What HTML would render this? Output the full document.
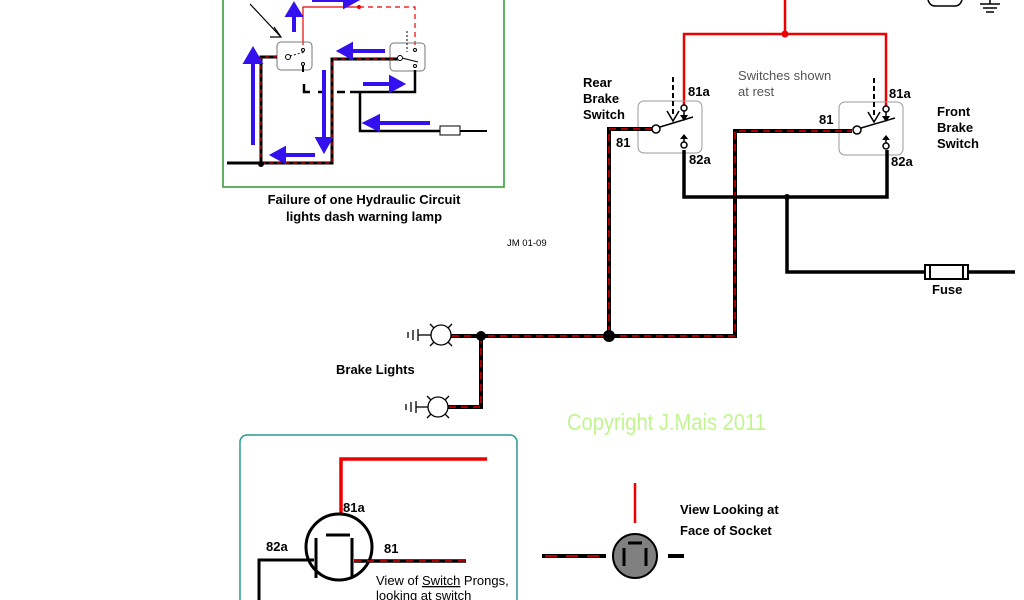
<!DOCTYPE html>
<html><head><meta charset="utf-8"><style>
html,body{margin:0;padding:0;background:#fff;width:1024px;height:600px;overflow:hidden}
svg{display:block}
text{font-family:"Liberation Sans",Arial,sans-serif}
.b{font-weight:bold;font-size:13px;fill:#000}
</style></head><body>
<svg width="1024" height="600" viewBox="0 0 1024 600" xmlns="http://www.w3.org/2000/svg">
<defs>
<marker id="ah" markerWidth="6" markerHeight="6" refX="3" refY="3" orient="auto"><path d="M0,0 L6,3 L0,6 z" fill="#000"/></marker>
</defs>
<!-- ===== top-left inset ===== -->
<rect x="223" y="-2" width="281" height="189" fill="none" stroke="#2a9a2a" stroke-width="1.5"/>
<text x="364" y="204" class="b" text-anchor="middle" font-size="12.5">Failure of one Hydraulic Circuit</text>
<text x="364" y="221" class="b" text-anchor="middle" font-size="12.5">lights dash warning lamp</text>
<!-- red thin -->
<polyline points="303,45 303,7 358,7" fill="none" stroke="#e00" stroke-width="1.2"/>
<circle cx="359" cy="7" r="2" fill="#e00"/>
<polyline points="359,7 415,7 415,45" fill="none" stroke="#e00" stroke-width="1.2" stroke-dasharray="5,4"/>
<!-- switch boxes -->
<rect x="277" y="42" width="35" height="28" rx="4" fill="none" stroke="#777" stroke-width="1"/>
<rect x="390" y="43" width="35" height="28" rx="4" fill="none" stroke="#777" stroke-width="1"/>
<circle cx="288" cy="57" r="2.5" fill="#fff" stroke="#000"/>
<line x1="290" y1="56" x2="305" y2="52" stroke="#000" stroke-dasharray="2,2"/>
<circle cx="303" cy="50" r="1.5" fill="none" stroke="#000"/>
<circle cx="303" cy="64" r="1.5" fill="none" stroke="#000"/>
<line x1="303" y1="66" x2="303" y2="72" stroke="#000" stroke-width="2"/>
<circle cx="400" cy="58" r="2.5" fill="#fff" stroke="#000"/>
<line x1="402" y1="58" x2="418" y2="62" stroke="#000"/>
<circle cx="415" cy="50" r="1.5" fill="none" stroke="#000"/>
<circle cx="415" cy="66" r="1.5" fill="none" stroke="#000"/>
<line x1="407" y1="31" x2="407" y2="52" stroke="#000" stroke-dasharray="2,2"/>
<!-- wires black/red -->
<g fill="none" stroke-width="3">
<polyline points="277,57 261,57 261,163" stroke="#000"/>
<polyline points="277,57 261,57 261,163" stroke="#d00" stroke-width="1.2" stroke-dasharray="4,4"/>
<polyline points="227,163 332,163 332,59 398,59" stroke="#000"/>
<polyline points="261,163 332,163 332,59 398,59" stroke="#d00" stroke-width="1.2" stroke-dasharray="4,4"/>
<polyline points="415,70 415,92 350,92" stroke="#000" stroke-width="2.5"/>
<polyline points="360,92 360,131 440,131" stroke="#000" stroke-width="2.5"/>
<line x1="460" y1="131" x2="487" y2="131" stroke="#000" stroke-width="2"/>
<polyline points="304,84 304,92 310,92" stroke="#000" stroke-width="2.5"/>
<line x1="318" y1="92" x2="326" y2="92" stroke="#000" stroke-width="2.5"/>
<line x1="337" y1="92" x2="345" y2="92" stroke="#000" stroke-width="2.5"/>
</g>
<circle cx="261" cy="164" r="3" fill="#000"/>
<rect x="440" y="126" width="20" height="9" fill="#fff" stroke="#000"/>
<line x1="250" y1="4" x2="280" y2="36" stroke="#000" stroke-width="1.2"/>
<polyline points="274,27 281,37 270,37" fill="none" stroke="#000" stroke-width="1.2"/>
<!-- blue arrows -->
<g stroke="#3311ee" stroke-width="4" fill="#3311ee">
<line x1="253" y1="145" x2="253" y2="60"/><path d="M246,62 L253,50 L260,62z"/>
<line x1="294" y1="32" x2="294" y2="14"/><path d="M288,15 L294,5 L300,15z"/>
<line x1="312" y1="0" x2="345" y2="0"/><path d="M345,-6 L356,0 L345,6z"/>
<line x1="385" y1="51" x2="350" y2="51"/><path d="M351,45 L340,51 L351,57z"/>
<line x1="324" y1="70" x2="324" y2="140"/><path d="M318,139 L324,150 L330,139z"/>
<line x1="315" y1="155" x2="283" y2="155"/><path d="M284,149 L273,155 L284,161z"/>
<line x1="363" y1="84" x2="392" y2="84"/><path d="M391,78 L402,84 L391,90z"/>
<line x1="430" y1="123" x2="377" y2="123"/><path d="M378,117 L366,123 L378,129z"/>
</g>
<!-- ===== main diagram ===== -->
<g fill="none" stroke="#e00" stroke-width="2.5">
<line x1="785" y1="0" x2="785" y2="34"/>
<polyline points="684,106 684,34 886,34 886,106"/>
</g>
<circle cx="785" cy="34" r="3.5" fill="#e00"/>
<!-- switch boxes -->
<rect x="638" y="101" width="64" height="52" rx="6" fill="none" stroke="#999" stroke-width="1"/>
<rect x="839" y="102" width="64" height="53" rx="6" fill="none" stroke="#999" stroke-width="1"/>
<!-- black/red wires -->
<g fill="none">
<polyline points="652,129 609,129 609,336" stroke="#000" stroke-width="4"/>
<polyline points="652,129 609,129 609,336" stroke="#d00" stroke-width="1.5" stroke-dasharray="7,5"/>
<polyline points="440,336 735,336 735,131 852,131" stroke="#000" stroke-width="4"/>
<polyline points="440,336 735,336 735,131 852,131" stroke="#d00" stroke-width="1.5" stroke-dasharray="7,5"/>
<polyline points="481,336 481,407 447,407" stroke="#000" stroke-width="4"/>
<polyline points="481,336 481,407 447,407" stroke="#d00" stroke-width="1.5" stroke-dasharray="7,5"/>
<polyline points="684,150 684,197 887,197 887,150" stroke="#000" stroke-width="3.5"/>
<polyline points="787,197 787,272 925,272" stroke="#000" stroke-width="3.5"/>
<line x1="968" y1="272" x2="1015" y2="272" stroke="#000" stroke-width="3.5"/>
</g>
<circle cx="787" cy="197" r="3" fill="#000"/>
<circle cx="481" cy="336" r="5" fill="#000"/>
<circle cx="609" cy="336" r="6" fill="#000"/>
<rect x="925" y="265" width="43" height="14" fill="#fff" stroke="#000" stroke-width="2"/>
<line x1="930" y1="265" x2="930" y2="279" stroke="#000" stroke-width="2"/>
<line x1="963" y1="265" x2="963" y2="279" stroke="#000" stroke-width="2"/>
<!-- rear switch internals -->
<circle cx="656" cy="129" r="4" fill="#fff" stroke="#000" stroke-width="1.5"/>
<line x1="660" y1="127" x2="693" y2="117" stroke="#000" stroke-width="1.5"/>
<circle cx="684" cy="108" r="3" fill="#fff" stroke="#000" stroke-width="1.5"/>
<line x1="684" y1="111" x2="684" y2="118" stroke="#000" stroke-width="1.5"/><path d="M680,115 L684,121 L688,115z" fill="#000"/>
<circle cx="684" cy="145" r="3" fill="#fff" stroke="#000" stroke-width="1.5"/>
<line x1="684" y1="142" x2="684" y2="136" stroke="#000" stroke-width="1.5"/><path d="M680,139 L684,134 L688,139z" fill="#000"/>
<line x1="673" y1="77" x2="673" y2="114" stroke="#000" stroke-width="2" stroke-dasharray="5,3"/>
<polyline points="667,111 673,121 679,111" fill="none" stroke="#000" stroke-width="1.5"/>
<!-- front switch internals -->
<circle cx="857" cy="130" r="4" fill="#fff" stroke="#000" stroke-width="1.5"/>
<line x1="861" y1="128" x2="895" y2="118" stroke="#000" stroke-width="1.5"/>
<circle cx="886" cy="109" r="3" fill="#fff" stroke="#000" stroke-width="1.5"/>
<line x1="886" y1="112" x2="886" y2="119" stroke="#000" stroke-width="1.5"/><path d="M882,116 L886,122 L890,116z" fill="#000"/>
<circle cx="886" cy="146" r="3" fill="#fff" stroke="#000" stroke-width="1.5"/>
<line x1="886" y1="143" x2="886" y2="137" stroke="#000" stroke-width="1.5"/><path d="M882,140 L886,135 L890,140z" fill="#000"/>
<line x1="874" y1="78" x2="874" y2="115" stroke="#000" stroke-width="2" stroke-dasharray="5,3"/>
<polyline points="868,112 874,122 880,112" fill="none" stroke="#000" stroke-width="1.5"/>
<!-- lamps -->
<g stroke="#000" stroke-width="1.3" fill="none">
<circle cx="441" cy="335" r="10" fill="#fff"/>
<line x1="430" y1="324" x2="434" y2="328"/><line x1="452" y1="324" x2="448" y2="328"/>
<line x1="430" y1="346" x2="434" y2="342"/><line x1="452" y1="346" x2="448" y2="342"/>
<line x1="418" y1="335" x2="431" y2="335"/>
<line x1="418" y1="329" x2="418" y2="341"/><line x1="413" y1="330" x2="413" y2="340"/><line x1="408" y1="332" x2="408" y2="338"/>
<circle cx="438" cy="407" r="10" fill="#fff"/>
<line x1="427" y1="396" x2="431" y2="400"/><line x1="449" y1="396" x2="445" y2="400"/>
<line x1="427" y1="418" x2="431" y2="414"/><line x1="449" y1="418" x2="445" y2="414"/>
<line x1="416" y1="407" x2="428" y2="407"/>
<line x1="416" y1="401" x2="416" y2="413"/><line x1="411" y1="402" x2="411" y2="412"/><line x1="406" y1="404" x2="406" y2="410"/>
</g>
<!-- top-right partial -->
<path d="M928,0 Q930,6 935,6 L955,6 Q960,6 962,0" fill="none" stroke="#000" stroke-width="1.5"/>
<line x1="990" y1="0" x2="990" y2="4" stroke="#000" stroke-width="1.5"/>
<line x1="980" y1="4" x2="1000" y2="4" stroke="#000" stroke-width="1.5"/>
<line x1="983" y1="8" x2="997" y2="8" stroke="#000" stroke-width="1.5"/>
<line x1="986" y1="12" x2="994" y2="12" stroke="#000" stroke-width="1.5"/>
<!-- labels -->
<text x="583" y="87" class="b">Rear</text>
<text x="583" y="103" class="b">Brake</text>
<text x="583" y="119" class="b">Switch</text>
<text x="688" y="96" class="b" font-size="11">81a</text>
<text x="616" y="147" class="b" font-size="11">81</text>
<text x="689" y="164" class="b" font-size="11">82a</text>
<text x="738" y="80" font-size="13" fill="#555">Switches shown</text>
<text x="738" y="96" font-size="13" fill="#555">at rest</text>
<text x="819" y="124" class="b" font-size="11">81</text>
<text x="889" y="98" class="b" font-size="11">81a</text>
<text x="891" y="166" class="b" font-size="11">82a</text>
<text x="937" y="116" class="b">Front</text>
<text x="937" y="132" class="b">Brake</text>
<text x="937" y="148" class="b">Switch</text>
<text x="932" y="294" class="b">Fuse</text>
<text x="507" y="246" font-size="9.5" fill="#000">JM 01-09</text>
<text x="336" y="374" class="b">Brake Lights</text>
<text x="567" y="430" font-size="23" fill="#c2f590" textLength="199" lengthAdjust="spacingAndGlyphs">Copyright J.Mais 2011</text>
<!-- bottom-left inset -->
<rect x="240" y="435" width="277" height="180" rx="7" fill="none" stroke="#2a9a90" stroke-width="1.5"/>
<polyline points="341,532 341,459 487,459" fill="none" stroke="#e00" stroke-width="3.5"/>
<circle cx="339" cy="547" r="33" fill="#fff" stroke="#000" stroke-width="3"/>
<line x1="326" y1="535" x2="350" y2="535" stroke="#000" stroke-width="3"/>
<line x1="316" y1="538" x2="316" y2="578" stroke="#000" stroke-width="3"/>
<line x1="352" y1="538" x2="352" y2="578" stroke="#000" stroke-width="3"/>
<polyline points="314,560 259,560 259,605" fill="none" stroke="#000" stroke-width="3"/>
<line x1="354" y1="561" x2="466" y2="561" stroke="#000" stroke-width="3.5"/>
<line x1="354" y1="561" x2="466" y2="561" stroke="#d00" stroke-width="1.5" stroke-dasharray="7,6"/>
<text x="343" y="512" class="b">81a</text>
<text x="266" y="551" class="b">82a</text>
<text x="384" y="553" class="b">81</text>
<text x="376" y="585" font-size="13" fill="#000">View of <tspan text-decoration="underline">Switch</tspan> Prongs,</text>
<text x="376" y="600" font-size="13" fill="#000">looking at switch</text>
<!-- socket -->
<line x1="635" y1="483" x2="635" y2="523" stroke="#e00" stroke-width="2.5"/>
<line x1="542" y1="556" x2="606" y2="556" stroke="#000" stroke-width="4"/>
<line x1="545" y1="556" x2="603" y2="556" stroke="#d00" stroke-width="1.8" stroke-dasharray="12,9"/>
<line x1="668" y1="556" x2="684" y2="556" stroke="#000" stroke-width="4"/>
<circle cx="635" cy="556" r="22" fill="#808080" stroke="#000" stroke-width="2"/>
<line x1="628" y1="543" x2="642" y2="543" stroke="#000" stroke-width="3"/>
<line x1="624" y1="548" x2="624" y2="566" stroke="#000" stroke-width="3"/>
<line x1="646" y1="548" x2="646" y2="566" stroke="#000" stroke-width="3"/>
<text x="680" y="514" class="b" font-size="14">View Looking at</text>
<text x="680" y="535" class="b" font-size="14">Face of Socket</text>
</svg>
</body></html>
